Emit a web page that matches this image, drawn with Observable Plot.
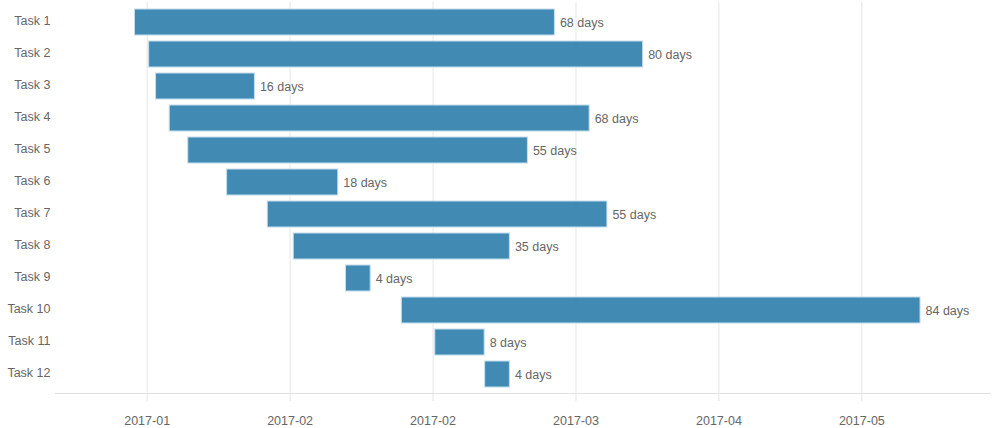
<!DOCTYPE html>
<html><head><meta charset="utf-8">
<script src="https://cdn.jsdelivr.net/npm/d3@7"></script>
<script src="https://cdn.jsdelivr.net/npm/@observablehq/plot@0.6"></script>
<style>body{margin:0;background:#fff}</style>
</head><body><div id="chart"></div>
<script>
const tasks = ["Task 1","Task 2","Task 3","Task 4","Task 5","Task 6","Task 7","Task 8","Task 9","Task 10","Task 11","Task 12"];
const starts = [
  "2017-01-08T07:00+08:00","2017-01-10T14:00+08:00","2017-01-11T17:00+08:00","2017-01-13T22:00+08:00",
  "2017-01-16T22:00+08:00","2017-01-23T05:00+08:00","2017-01-29T19:00+08:00","2017-02-03T00:00+08:00",
  "2017-02-11T11:00+08:00","2017-02-20T12:00+08:00","2017-02-25T22:00+08:00","2017-03-06T00:00+08:00"
];
const durations = [68, 80, 16, 68, 55, 18, 55, 35, 4, 84, 8, 4];
const tickTimes = [1484e9, 1486e9, 1488e9, 1490e9, 1492e9, 1494e9];
const tickLabels = ["2017-01","2017-02","2017-02","2017-03","2017-04","2017-05"];
const xDomain = ["2016-12-26T10:00+08:00", "2017-05-26T20:00+08:00"];

const DAY = 864e5;
const data = tasks.map((t, i) => {
  const s = new Date(starts[i]);
  return {task: t, start: s, end: new Date(+s + durations[i] * DAY), days: durations[i]};
});
const tickDates = tickTimes.map(t => new Date(t));
const labelOf = new Map(tickTimes.map((t, i) => [t, tickLabels[i]]));

const chart = Plot.plot({
  width: 996,
  height: 428,
  marginLeft: 55,
  marginRight: 6,
  marginTop: 2,
  marginBottom: 35,
  style: {fontFamily: "'Liberation Sans', Arial, sans-serif", fontSize: "12.5px", background: "#fff"},
  x: {type: "time", domain: xDomain.map(d => new Date(d))},
  y: {domain: tasks, paddingInner: 0.2, paddingOuter: 0.1526},
  marks: [
    Plot.gridX(tickDates, {stroke: "#e6e6e6", strokeOpacity: 1}),
    Plot.frame({anchor: "bottom", stroke: "#e0e0e0"}),
    Plot.axisX(tickDates, {tickSize: 8, tickPadding: 15, stroke: "#e6e6e6", fill: "#666", fontSize: 12.5,
      tickFormat: d => labelOf.get(+d), label: null}),
    Plot.axisY({tickSize: 0, tickPadding: 5, dy: -2, fill: "#666", fontSize: 12.5, label: null}),
    Plot.barX(data, {x1: "start", x2: "end", y: "task", fill: "#418ab4", stroke: "#c4dceb", strokeWidth: 1}),
    Plot.text(data, {x: "end", y: "task", text: d => `${d.days} days`, textAnchor: "start", dx: 5, fill: "#666", fontSize: 12.5})
  ]
});
document.getElementById("chart").append(chart);
</script>
</body></html>
